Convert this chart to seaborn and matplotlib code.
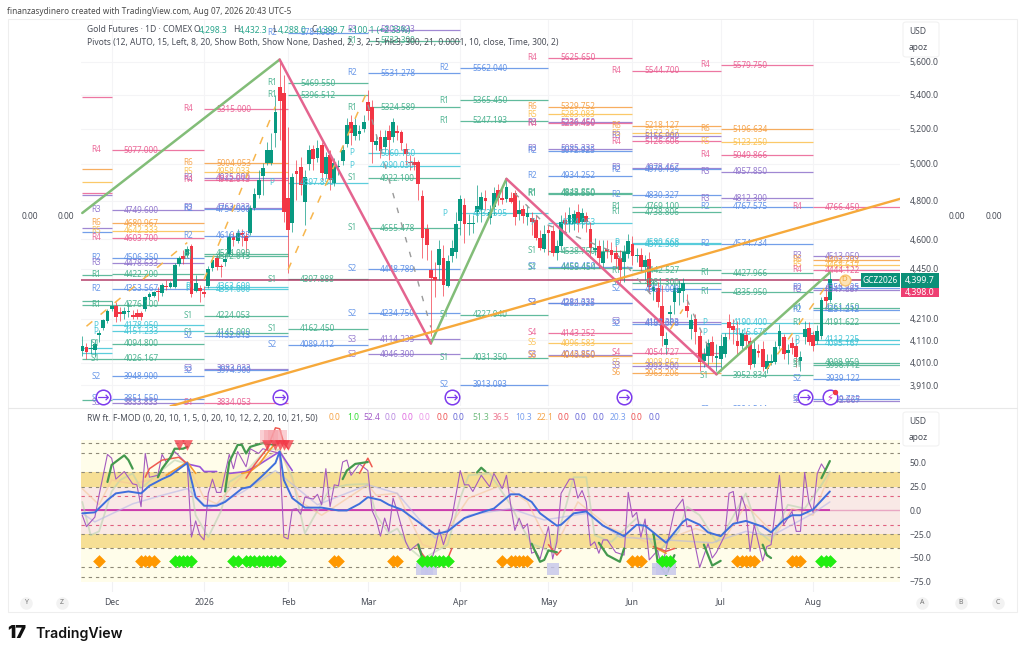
import matplotlib
matplotlib.use("Agg")
import numpy as np
import matplotlib.pyplot as plt
from matplotlib.patches import Rectangle, FancyBboxPatch
import seaborn as sns

W, H = 1024, 655

month_ticks = [7, 29, 49, 68, 90, 111, 131, 152, 174]
month_labels = ["Dec", "2026", "Feb", "Mar", "Apr", "May", "Jun", "Jul", "Aug"]
price_ticks = [5600, 5400, 5200, 5000, 4800, 4600, 4450, 4210, 4110, 4010, 3910]
osc_ticks = [50, 25, 0, -25, -50, -75]

# daily bars, one row per line of (open, high, low, close)
opens = [4060, 4078, 4069, 4065, 4134, 4166, 4198, 4254, 4268, 4240, 4230, 4240, 4226, 4235, 4235, 4254, 4311, 4320, 4339, 4330,
         4368, 4363, 4363, 4476, 4516, 4521, 4566, 4344, 4354, 4339, 4368, 4456, 4506, 4466, 4486, 4526, 4612, 4592, 4632, 4617,
         4632, 4763, 4832, 4935, 5006, 5006, 5175, 5447, 5411, 4816, 4684, 4962, 4984, 4795, 5001, 5085, 5034, 5107, 4946, 5051,
         4896, 4984, 5018, 5113, 5240, 5158, 5170, 5199, 5357, 5328, 5107, 5153, 5096, 5187, 5153, 5187, 5181, 5085, 5012, 5012,
         5012, 4827, 4653, 4446, 4412, 4471, 4506, 4368, 4516, 4536, 4695, 4778, 4679, 4679, 4742, 4752, 4816, 4710, 4768, 4858,
         4816, 4810, 4816, 4842, 4731, 4757, 4716, 4710, 4700, 4607, 4551, 4648, 4643, 4531, 4566, 4700, 4679, 4679, 4742, 4690,
         4721, 4653, 4546, 4566, 4481, 4551, 4546, 4531, 4506, 4486, 4526, 4576, 4516, 4521, 4461, 4501, 4344, 4358, 4272, 4087,
         4230, 4287, 4330, 4344, 4272, 4161, 4211, 4129, 4015, 4038, 4101, 4029, 4024, 4047, 4193, 4175, 4106, 4083, 4134, 4106,
         4002, 4060, 4069, 3980, 4006, 4011, 4083, 4124, 4051, 4097, 4083, 4015, 4124, 4166, 4134, 4106, 4129, 4311, 4298.3]
highs = [4129, 4096, 4115, 4115, 4157, 4211, 4254, 4292, 4287, 4263, 4263, 4287, 4249, 4254, 4245, 4320, 4339, 4344, 4363, 4383,
         4397, 4392, 4481, 4516, 4546, 4566, 4576, 4422, 4373, 4368, 4466, 4506, 4521, 4476, 4521, 4632, 4637, 4653, 4653, 4637,
         4778, 4869, 4968, 5006, 5124, 5175, 5399, 5606, 5520, 5210, 4951, 5023, 5040, 4968, 5107, 5107, 5136, 5124, 5068, 5079,
         5034, 5023, 5107, 5263, 5280, 5263, 5222, 5280, 5429, 5369, 5164, 5193, 5193, 5222, 5263, 5222, 5193, 5119, 5051, 5040,
         5023, 4858, 4679, 4546, 4486, 4597, 4571, 4521, 4597, 4742, 4832, 4816, 4731, 4726, 4885, 4848, 4858, 4778, 4875, 4891,
         4875, 4918, 4848, 4858, 4805, 4778, 4778, 4742, 4726, 4648, 4674, 4674, 4674, 4597, 4726, 4742, 4768, 4752, 4783, 4762,
         4742, 4690, 4607, 4597, 4597, 4597, 4587, 4571, 4546, 4571, 4627, 4617, 4556, 4556, 4521, 4536, 4397, 4387, 4373, 4147,
         4277, 4383, 4397, 4407, 4325, 4230, 4230, 4152, 4074, 4115, 4129, 4092, 4138, 4143, 4230, 4207, 4198, 4161, 4152, 4124,
         4115, 4092, 4106, 4047, 4047, 4106, 4184, 4138, 4092, 4124, 4097, 4060, 4198, 4193, 4152, 4179, 4311, 4373, 4432.3]
lows = [4038, 4024, 4047, 4033, 4101, 4157, 4189, 4245, 4193, 4198, 4207, 4216, 4211, 4207, 4202, 4245, 4301, 4311, 4292, 4320,
        4349, 4354, 4354, 4466, 4476, 4511, 4315, 4335, 4287, 4311, 4358, 4437, 4446, 4412, 4466, 4516, 4566, 4582, 4566, 4536,
        4622, 4752, 4816, 4832, 4995, 4995, 5096, 5136, 4690, 4432, 4638, 4805, 4832, 4674, 4968, 4968, 5012, 4913, 4924, 4858,
        4880, 4940, 4995, 5096, 5107, 5136, 5136, 5181, 5251, 5006, 5079, 5034, 5068, 5023, 5124, 5136, 5079, 4995, 4968, 4968,
        4805, 4506, 4496, 4129, 4311, 4397, 4320, 4363, 4486, 4506, 4622, 4582, 4622, 4632, 4690, 4690, 4752, 4679, 4726, 4778,
        4783, 4795, 4789, 4674, 4700, 4684, 4674, 4622, 4597, 4546, 4536, 4521, 4516, 4496, 4546, 4638, 4638, 4648, 4638, 4658,
        4638, 4506, 4521, 4456, 4456, 4506, 4486, 4456, 4383, 4387, 4506, 4471, 4486, 4437, 4397, 4330, 4301, 4263, 4083, 4047,
        4184, 4230, 4277, 4287, 4216, 4115, 4092, 3971, 3989, 3989, 4011, 3971, 3971, 4033, 4115, 4092, 4047, 4069, 4069, 3980,
        3989, 4033, 3971, 3962, 3998, 4002, 4069, 4024, 4002, 4047, 3989, 3971, 4092, 4087, 4060, 4092, 4115, 4254, 4288.0]
closes = [4083, 4056, 4074, 4092, 4143, 4202, 4245, 4272, 4216, 4230, 4245, 4245, 4216, 4216, 4216, 4311, 4325, 4335, 4335, 4373,
          4363, 4383, 4471, 4506, 4501, 4551, 4325, 4383, 4344, 4325, 4451, 4496, 4461, 4461, 4501, 4612, 4597, 4632, 4622, 4592,
          4763, 4837, 4913, 4979, 5079, 5079, 5298, 5363, 4742, 4648, 4929, 4946, 4885, 4929, 5079, 5029, 5091, 4951, 5040, 4913,
          5006, 4990, 5079, 5222, 5175, 5222, 5187, 5240, 5304, 5124, 5130, 5073, 5153, 5136, 5240, 5175, 5119, 5057, 5006, 4995,
          4891, 4607, 4571, 4407, 4397, 4551, 4373, 4491, 4556, 4679, 4810, 4679, 4684, 4684, 4773, 4821, 4800, 4742, 4842, 4816,
          4805, 4875, 4795, 4716, 4752, 4721, 4736, 4690, 4607, 4556, 4627, 4632, 4531, 4566, 4690, 4679, 4726, 4731, 4684, 4736,
          4690, 4556, 4556, 4506, 4536, 4541, 4521, 4501, 4446, 4536, 4592, 4516, 4521, 4461, 4496, 4363, 4363, 4287, 4129, 4115,
          4240, 4354, 4354, 4383, 4245, 4202, 4147, 4011, 4047, 4097, 4038, 4038, 4083, 4124, 4166, 4157, 4083, 4143, 4106, 3998,
          4069, 4051, 3989, 4015, 4015, 4078, 4152, 4047, 4065, 4074, 4033, 4033, 4161, 4101, 4083, 4152, 4301, 4292, 4399.7]

# monthly pivot columns: (level name, price)
piv_nov = [("R4", 5386), ("R6", 4974), ("R5", 4901), ("R4", 4840), ("R3", 4830), ("R3", 4655), ("R2", 4636),
           ("R1", 4422), ("R1", 4292), ("R1", 4277), ("P", 4074), ("P", 4052), ("S1", 4026), ("S1", 3846)]
piv_dec = [("R4", 5077.000), ("R3", 4749.600), ("R6", 4680.967), ("R5", 4642.333), ("R4", 4603.700), ("R2", 4506.350),
           ("R3", 4478.633), ("R1", 4422.200), ("R2", 4353.567), ("R1", 4276.100), ("P", 4178.950), ("P", 4151.233),
           ("S1", 4094.800), ("S1", 4026.167), ("S2", 3948.900), ("S2", 3851.550), ("S3", 3833.833)]
piv_jan = [("R4", 5315.000), ("R6", 5004.053), ("R5", 4958.033), ("R3", 4925.000), ("R4", 4912.013), ("R3", 4763.033),
           ("R2", 4754.900), ("R2", 4616.033), ("R1", 4524.090), ("R1", 4512.013), ("P", 4363.600), ("P", 4351.000),
           ("S1", 4224.053), ("S1", 4145.000), ("S2", 4132.013), ("S3", 3983.033), ("S2", 3974.900), ("S4", 3834.053)]
piv_feb = [("R2", 5784.988), ("R1", 5469.550), ("R1", 5396.512), ("P", 4897.850), ("S1", 4397.888),
           ("S1", 4162.450), ("S2", 4089.412)]
piv_mar = [("R3", 5803.833), ("R1", 5733.300), ("R2", 5531.278), ("R1", 5324.589), ("P", 5060.160), ("P", 4990.030),
           ("S1", 4922.100), ("S1", 4655.478), ("S2", 4448.789), ("S2", 4234.750), ("S3", 4114.235), ("S3", 4046.300)]
piv_apr = [("R2", 5562.040), ("R1", 5365.450), ("R1", 5247.193), ("P", 4732.595), ("S1", 4227.940),
           ("S1", 4031.350), ("S2", 3913.093)]
piv_may = [("R4", 5625.650), ("R6", 5329.752), ("R5", 5283.083), ("R3", 5236.450), ("R4", 5230.450), ("R3", 5085.333),
           ("R2", 5072.925), ("R2", 4934.252), ("R1", 4843.850), ("R1", 4838.550), ("P", 4684.063), ("S1", 4538.750),
           ("S2", 4459.450), ("S1", 4455.454), ("S3", 4284.333), ("S2", 4282.925), ("S4", 4143.252), ("S5", 4096.583),
           ("S3", 4043.850), ("S6", 4040.850)]
piv_jun = [("R4", 5544.700), ("R6", 5218.127), ("R5", 5172.347), ("R3", 5156.900), ("R4", 5126.606), ("R3", 4978.467),
           ("R2", 4970.156), ("R2", 4830.327), ("R1", 4769.100), ("R1", 4738.806), ("P", 4580.668), ("P", 4572.300),
           ("R1", 4442.527), ("S1", 4381.300), ("S2", 4351.008), ("S3", 4193.333), ("S2", 4187.008), ("S4", 4054.727),
           ("S5", 4008.967), ("S3", 3993.500), ("S6", 3963.206)]
piv_jul = [("R4", 5579.750), ("R6", 5196.634), ("R5", 5123.250), ("R4", 5049.866), ("R3", 4957.850), ("R3", 4812.300),
           ("R2", 4767.575), ("R2", 4574.734), ("R1", 4427.966), ("R1", 4335.950), ("P", 4190.400), ("P", 4145.678),
           ("S1", 3952.834), ("S2", 3804.544)]
piv_aug = [("R4", 4766.450), ("R3", 4513.950), ("R6", 4493.792), ("R5", 4468.617), ("R4", 4444.122), ("R2", 4356.725),
           ("R3", 4347.887), ("R1", 4261.450), ("R2", 4251.212), ("R1", 4191.622), ("P", 4112.225), ("P", 4095.167),
           ("S1", 4008.950), ("S1", 3998.712), ("S2", 3939.122), ("S2", 3849.725), ("S3", 3842.667)]
pivot_cols = [piv_nov, piv_dec, piv_jan, piv_feb, piv_mar, piv_apr, piv_may, piv_jun, piv_jul, piv_aug]
pivot_bounds = [0, 7, 29, 49, 68, 90, 111, 131, 152, 174, 195]

zigzag_up = [([0, 47], [4735, 5615]), ([83, 101], [4096, 4918]), ([151, 178], [3958, 4432])]
zigzag_down = [([47, 83], [5615, 4096]), ([101, 151], [4918, 3958])]
trend_x = [21, 194.7]
trend_y = [3820, 4810]
last_line = 4397
orange_dash = [([1, 25], [4175, 4582]), ([29, 46], [4397, 5330]), ([49, 68], [4446, 5429]),
               ([140, 143], [4161, 4254]), ([163, 177], [3980, 4363])]
gray_dash = [([68, 83], [5340, 4170]), ([103, 110, 127, 136], [4840, 4680, 4530, 4310]), ([144, 150], [4300, 4040])]
event_bars = [5, 47, 88, 129, 172]
event_price = 3858
flash_bar = 178

# oscillator pane
osc_x = [0, 1, 3, 4, 6, 7, 8, 10, 12, 13, 14, 15, 16, 18, 19, 20, 21, 22, 25, 26, 27, 28, 29, 30, 31, 32, 33, 35, 36, 37,
         39, 40, 42, 43, 47, 48, 49, 50, 51, 52, 53, 55, 56, 57, 58, 59, 60, 61, 62, 63, 64, 66, 68, 69, 70, 71, 72, 73, 74, 75,
         77, 78, 80, 81, 83, 84, 85, 86, 88, 90, 91, 92, 93, 95, 97, 98, 100, 101, 102, 103, 104, 105, 106, 107, 108, 109, 111, 112, 113,
         114, 116, 117, 118, 119, 120, 121, 122, 123, 124, 125, 127, 129, 130, 131, 132, 133, 134, 135, 137, 138, 141, 143, 144, 145,
         147, 149, 150, 151, 153, 154, 155, 156, 157, 158, 159, 160, 162, 163, 164, 166, 167, 169, 170, 171, 172, 173, 174, 175, 176, 177]
osc_y = [-5, -17, -7, 16, 59, 55, 33, 41, 28, 27, 4, 60, 35, 37, 59, 51, 55, 62, 49, -28, -11, -26, -31, 18, 33, 19, 19, 59, 44, 62,
         46, 65, 60, 65, 60, -28, -30, 1, 2, -4, 14, 12, 17, 6, 44, 4, 27, 26, 51, 53, 37, 49, 42, 0, -10, -27, -8, -22, 13, -1,
         -33, -42, -35, -47, -54, -40, -20, -36, -8, 42, 27, 27, 20, 37, 25, 39, 23, 37, 6, -21, -8, -19, -14, -45, -43, -51, -17, -51, -33,
         18, 33, 33, 13, 21, 9, -37, -33, -45, -31, -31, -44, -47, 19, -7, -2, -28, -9, -52, -42, -61, 0, 12, -17, -17,
         -60, -35, -50, -44, -26, 18, 20, -12, 15, 2, -43, -15, -53, -38, -36, 37, -15, -1, -22, -22, 40, 9, -2, 39, 49, 42]
ma_x = [0, 3, 6, 8, 11, 14, 16, 19, 21, 25, 27, 29, 32, 34, 38, 40, 43, 46, 47, 48, 50, 53, 57, 61, 63, 66, 68, 71, 73, 76,
        80, 84, 87, 91, 95, 98, 102, 104, 107, 109, 113, 114, 117, 120, 124, 129, 132, 134, 139, 143, 144, 147, 149, 152,
        155, 158, 162, 164, 167, 169, 171, 174, 178]
ma_y = [-3, -2, 11, 18, 20, 18, 26, 33, 37, 50, 14, 5, 5, 9, 23, 25, 37, 50, 62, 32, 13, 3, 3, 0, 0, 7, 14, 11, 6, 1,
        -12, -25, -22, -8, -2, 2, 17, 17, 9, -3, -16, -15, -3, -1, -16, -27, -15, -16, -34, -12, -9, -15, -23, -27,
        -14, -11, -17, -23, -10, -5, -5, 1, 20]
green_segs = [([6, 7, 10, 11, 12], [30, 48, 58, 53, 44]), ([18, 19, 21, 22, 24, 25], [35, 44, 56, 65, 65, 67]),
              ([34, 35, 37, 38, 39, 40, 43, 46], [20, 51, 69, 69, 60, 67, 71, 69]), ([62, 63, 65, 68], [33, 42, 49, 51]),
              ([80, 81, 83], [-36, -51, -54]), ([94, 95, 96], [40, 45, 41]), ([107, 109, 110, 111, 113], [-35, -54, -52, -42, -44]),
              ([123, 125, 128, 129], [-34, -47, -54, -40]), ([136, 137, 139, 141], [-24, -54, -68, -47]),
              ([148, 150, 152], [-36, -58, -53]), ([162, 163, 164], [-36, -47, -50]), ([176, 178], [34, 52])]
red_segs = [([15, 16, 19, 23, 25], [35, 44, 53, 56, 49]), ([39, 41, 44, 46, 47, 48, 49], [34, 48, 65, 87, 86, 71, 65]),
            ([66, 68, 69], [39, 55, 46]), ([80, 82, 85, 87, 88], [-40, -52, -57, -51, -40]), ([111, 113, 114], [-36, -47, -42]),
            ([136, 139, 141], [-38, -43, -40])]
orange_segs = [([20, 25, 27], [37, 51, 39]), ([38, 40, 42, 44, 46], [39, 41, 48, 60, 71]), ([136, 139], [-38, -45])]
violet_segs = [([25, 28, 29, 32], [49, 46, 41, 41]), ([35, 39, 42, 47, 50], [39, 41, 48, 62, 42])]
pale_green_x = [0, 2, 4, 7, 9, 12, 14, 18, 22, 25, 27, 30, 33, 35, 39, 44, 47, 50, 53, 55, 59, 63, 68, 70, 73, 75, 78, 81, 87, 90, 92, 97, 102,
                104, 107, 112, 115, 117, 120, 122, 126, 132, 137, 142, 144, 147, 151, 153, 158, 161, 164, 168, 172, 176, 178]
pale_green_y = [9, -26, -22, 20, 32, 39, 23, 39, 53, 49, -5, -28, -1, 30, 41, 65, 64, 35, -24, -8, 23, 27, 28, -5, -24, -19, -40, -51, -36, 13, 37, 39, 6,
                -12, -35, -44, 2, 35, 35, -26, -33, -8, -44, -22, 4, -5, -33, -22, 18, -22, -33, 6, 2, 27, 41]
pale_orange_x = [0, 4, 7, 12, 18, 25, 29, 32, 39, 47, 52, 57, 68, 70, 75, 81, 84, 92, 100, 106, 112, 118, 126, 136, 146, 153, 158, 165, 169, 174, 178]
pale_orange_y = [23, 6, 32, 28, 34, 49, 13, 7, 41, 65, 9, -5, 27, 16, 18, -36, -40, 13, 27, 9, -44, 9, -19, -36, -19, -29, 6, -26, 2, -5, 39]
pale_lav_x = [0, 3, 12, 19, 25, 30, 38, 46, 56, 68, 75, 84, 92, 102, 110, 120, 128, 139, 150, 158, 164, 174, 178]
pale_lav_y = [-3, -12, 7, 16, 23, 2, 19, 42, 6, 27, 18, -29, -5, 2, -10, -3, -28, -31, -34, -22, -27, -3, 9]
orange_marks = [4, 14, 15, 16, 17, 60, 61, 74, 75, 100, 102, 103, 104, 105, 106, 131, 132, 133, 156, 157, 158, 159, 160, 169, 170, 171]
green_marks = [22, 23, 24, 25, 26, 36, 37, 39, 40, 41, 42, 43, 44, 45, 46, 47, 81, 82, 83, 84, 85, 86, 87, 138, 139, 140, 176, 177, 178]
mark_level = -53
lav_marks = [81, 82, 83, 112, 137, 138, 140]
lav_level = -62
sell_marks = [23, 25, 44, 46, 47, 48, 49]
sell_level = 69
sub_values = ["0.0", "1.0", "52.4", "0.0", "0.0", "0.0", "0.0", "0.0", "51.3", "36.5", "10.3", "22.1", "0.0", "0.0", "0.0", "20.3", "0.0", "0.0"]
sub_colors = ["#f5a54a", "#33dd33", "#a35cc8", "#b98ae0", "#e06ce0", "#eb9ae8", "#ee5555", "#6a6ad8", "#6fbb7d",
              "#ee7b94", "#7aa0ee", "#f5a54a", "#ee5555", "#6a6ad8", "#6a6ad8", "#7aa0ee", "#ee5555", "#6a6ad8"]
sub_value_px = [329, 347, 363, 385, 402, 419, 437, 453, 472, 493, 515, 537, 558, 575, 593, 610, 631, 649]

level_colors = {"R1": "#45b08c", "S1": "#45b08c", "R2": "#5b8ee6", "S2": "#5b8ee6", "R3": "#8f73cc", "S3": "#8f73cc",
                "R4": "#ea5f92", "S4": "#ea5f92", "R5": "#fbc04f", "S5": "#fbc04f", "R6": "#f6a044", "S6": "#f6a044",
                "P": "#3fc5d6"}
UP, DOWN = "#089981", "#f23645"
TXT = "#4a4e58"
LEG = 6.1

sns.set_theme(style="white")
plt.rcParams["font.family"] = ["Noto Sans", "DejaVu Sans"]
fig = plt.figure(figsize=(W / 100, H / 100), dpi=100, facecolor="white")


def fx(x):
    return x / W


def fy(y):
    return 1 - y / H


def panel(x0, y0, x1, y1):
    return fig.add_axes([fx(x0), fy(y1), (x1 - x0) / W, (y1 - y0) / H])


def box(x0, y0, x1, y1, **kw):
    fig.add_artist(Rectangle((fx(x0), fy(y1)), (x1 - x0) / W, (y1 - y0) / H, transform=fig.transFigure, **kw))


def seg_lines(ax, segs, color, lw, alpha=1.0, **kw):
    for xs, ys in segs:
        sns.lineplot(x=xs, y=ys, ax=ax, color=color, lw=lw, alpha=alpha, estimator=None, sort=False, legend=False, **kw)


ax = panel(81, 20, 900, 406)
ax2 = panel(81, 409, 900, 592)

# main pane
ax.set_yscale("log")
ax.set_xlim(-0.3, 194.7)
ax.set_ylim(3821, 5867.5)
ax.set_yticks(price_ticks)
ax.set_yticklabels([f"{p:,.1f}" for p in price_ticks], fontsize=6.2, color=TXT)
ax.minorticks_off()
ax.yaxis.tick_right()
ax.tick_params(axis="y", length=0, pad=7)
ax.set_xticks(month_ticks)
ax.set_xticklabels([])
ax.tick_params(axis="x", length=0)
ax.grid(True, color="#f4f4f6", lw=0.8)
ax.set_axisbelow(True)
for s in ax.spines.values():
    s.set_visible(False)

for k, col in enumerate(pivot_cols):
    x0, x1 = pivot_bounds[k], pivot_bounds[k + 1]
    for name, price in col:
        c = level_colors[name]
        ax.hlines(price, x0, x1, color=c, lw=0.9, alpha=0.85, zorder=2)
        if k > 0:
            ax.text(x0 - 3.8, price * 1.0004, name, color=c, fontsize=5.9, ha="center", va="center", alpha=0.9, zorder=6, clip_on=True)
            ax.text(x0 + 2.9, price, f"{price:.3f}", color=c, fontsize=5.9, ha="left", va="center", alpha=0.95, zorder=6, clip_on=True)

ax.axhline(last_line, color="#b23a66", lw=1.2, alpha=0.9, zorder=3)

bars = np.arange(len(opens))
o, c = np.array(opens, float), np.array(closes, float)
bar_cols = [UP if c[i] >= o[i] else DOWN for i in bars]
ax.vlines(bars, lows, highs, colors=bar_cols, lw=0.7, alpha=0.7, zorder=4)
ax.bar(bars, np.maximum(np.abs(c - o), 5), bottom=np.minimum(o, c), width=0.9, color=bar_cols, lw=0, zorder=5)

seg_lines(ax, zigzag_up, "#82bd78", 1.8, zorder=7)
seg_lines(ax, zigzag_down, "#e4648f", 1.8, zorder=7)
sns.lineplot(x=trend_x, y=trend_y, ax=ax, color="#f6a93b", lw=1.7, estimator=None, legend=False, zorder=7)
seg_lines(ax, orange_dash, "#f7b64d", 1.1, zorder=6, dashes=(5, 7))
seg_lines(ax, gray_dash, "#9a9a9a", 1.0, zorder=6, dashes=(4, 7))

ex = event_bars
ey = [event_price] * len(ex)
sns.scatterplot(x=ex + [flash_bar], y=ey + [event_price], ax=ax, s=110, facecolor="white", edgecolor="#7c3aed", linewidth=1.1, zorder=8, legend=False)
ax.scatter(ex, ey, marker=r"$\rightarrow$", s=60, color="#7c3aed", linewidths=0, zorder=9)
ax.text(flash_bar, event_price, "\u26a1", color="#c026d3", fontsize=7, ha="center", va="center", family="DejaVu Sans", zorder=9)
ax.scatter([flash_bar + 1.3], [event_price * 1.006], s=8, color="#f23645", zorder=10)
ax.scatter([181.5], [last_line], s=60, color="#fde3b5", edgecolor="#f9c56f", zorder=8)
ax.text(181.5, last_line, "D", color="#f0a030", fontsize=5.6, ha="center", va="center", zorder=9)

# oscillator pane
ax2.set_xlim(-0.3, 194.7)
ax2.set_ylim(-85.8, 106.8)
ax2.axhspan(40, 74, color="#fffdea", lw=0)
ax2.axhspan(-75, -40, color="#fffdea", lw=0)
ax2.axhspan(25, 40, color="#f6df95", lw=0)
ax2.axhspan(-40, -25, color="#f6df95", lw=0)
ax2.axhspan(-25, 25, color="#f9e9e6", lw=0)
for lev in [71, 60, 40, 25, -25, -40, -60, -70]:
    ax2.axhline(lev, color="#8f8a78", lw=0.8, dashes=(3, 3.5))
for lev in [15, -15]:
    ax2.axhline(lev, color="#e0607f", lw=0.8, dashes=(3, 3.5))
ax2.axhline(0, color="#e9a7c3", lw=1.0)
ax2.hlines(0, -0.3, 178, color="#c728a8", lw=1.2)

seg_lines(ax2, [(pale_green_x, pale_green_y)], "#b9d3b0", 1.3, alpha=0.6)
seg_lines(ax2, [(pale_orange_x, pale_orange_y)], "#f6c79a", 1.1, alpha=0.6)
seg_lines(ax2, [(pale_lav_x, pale_lav_y)], "#b6b8e8", 1.1, alpha=0.6)
seg_lines(ax2, [(osc_x, osc_y)], "#a45bbf", 0.8)
seg_lines(ax2, violet_segs, "#9a55d8", 1.2)
seg_lines(ax2, orange_segs, "#f39a2d", 1.2)
seg_lines(ax2, red_segs, "#ee5a50", 1.1)
seg_lines(ax2, green_segs, "#44994e", 1.6)
seg_lines(ax2, [(ma_x, ma_y)], "#3f6fdc", 1.4)

sns.scatterplot(x=orange_marks, y=[mark_level] * len(orange_marks), ax=ax2, marker="D", s=42, color="#ff9800", linewidth=0, legend=False, zorder=6)
sns.scatterplot(x=green_marks, y=[mark_level] * len(green_marks), ax=ax2, marker="D", s=42, color="#22ee11", linewidth=0, legend=False, zorder=6)
sns.scatterplot(x=lav_marks, y=[lav_level] * len(lav_marks), ax=ax2, marker="s", s=70, color="#c5c5ec", alpha=0.8, linewidth=0, legend=False, zorder=5)
sns.scatterplot(x=[44, 45, 46, 47], y=[77] * 4, ax=ax2, marker="s", s=100, color="#f6a0a8", alpha=0.5, linewidth=0, legend=False, zorder=5)
sns.scatterplot(x=sell_marks, y=[sell_level] * len(sell_marks), ax=ax2, marker="v", s=60, color="#f23645", alpha=0.75, linewidth=0, legend=False, zorder=7)

ax2.set_yticks(osc_ticks)
ax2.set_yticklabels([f"{t:.1f}".replace("-", "\u2212") for t in osc_ticks], fontsize=6.2, color=TXT)
ax2.yaxis.tick_right()
ax2.tick_params(axis="y", length=0, pad=7)
ax2.set_xticks(month_ticks)
ax2.set_xticklabels(month_labels, fontsize=6.2, color=TXT)
ax2.get_xticklabels()[1].set_fontweight("bold")
ax2.tick_params(axis="x", length=0, pad=4)
ax2.grid(True, axis="x", color="#f1f1f3", lw=0.8)
ax2.set_axisbelow(True)
for s in ax2.spines.values():
    s.set_visible(False)

# page chrome
box(8, 19, 1017, 612, fill=False, edgecolor="#eeeeee", lw=0.8, zorder=0)
fig.add_artist(plt.Line2D([fx(8), fx(1017)], [fy(407.5), fy(407.5)], color="#e8e8e8", lw=0.8))
fig.text(fx(7), fy(11), "finanzasydinero created with TradingView.com, Aug 07, 2026 20:43 UTC-5", fontsize=5.9, color="#4a4a4a", va="center")

fig.text(fx(87), fy(30), "Gold Futures \u00b7 1D \u00b7 COMEX", fontsize=LEG, color=TXT, va="center", zorder=20)
for px, head, val in [(193, "O", "4,298.3"), (233, "H", "4,432.3"), (272, "L", "4,288.0"), (311, "C", "4,399.7")]:
    fig.text(fx(px), fy(30), head, fontsize=LEG, color=TXT, va="center", zorder=20)
    fig.text(fx(px + 5.5), fy(30), val, fontsize=LEG, color="#2aa58c", va="center", zorder=20)
fig.text(fx(348), fy(30), "+100.1 (+2.33%)", fontsize=LEG, color="#2aa58c", va="center", zorder=20)
fig.text(fx(87), fy(42), "Pivots (12, AUTO, 15, Left, 8, 20, Show Both, Show None, Dashed, 2, 3, 2, 5, hlc3, 300, 21, 0.0001, 10, close, Time, 300, 2)",
         fontsize=LEG, color=TXT, va="center", zorder=20)
fig.text(fx(87), fy(418), "RW ft. F-MOD (0, 20, 10, 1, 5, 0, 20, 10, 12, 2, 20, 10, 21, 50)", fontsize=LEG, color=TXT, va="center", zorder=20)
for px, val, col in zip(sub_value_px, sub_values, sub_colors):
    fig.text(fx(px), fy(418), val, fontsize=LEG, color=col, va="center", zorder=20)

for px in [30, 66, 957, 994]:
    fig.text(fx(px), fy(216), "0.00", fontsize=LEG, color=TXT, ha="center", va="center")

for y0, y1 in [(22, 57), (412, 446)]:
    fig.add_artist(FancyBboxPatch((fx(903), fy(y1)), 36 / W, (y1 - y0) / H, boxstyle="round,pad=0,rounding_size=0.003",
                                  transform=fig.transFigure, facecolor="white", edgecolor="#f0f0f0", lw=0.7, zorder=15))
    fig.text(fx(909), fy(y0 + 9), "USD", fontsize=LEG, color=TXT, va="center", zorder=16)
    fig.text(fx(909), fy(y0 + 26), "apoz", fontsize=LEG, color=TXT, va="center", zorder=16)

box(861, 273, 900, 287, facecolor="#0b9078", edgecolor="none", zorder=15)
box(901, 273, 939, 288, facecolor="#0b9078", edgecolor="none", zorder=15)
box(901, 288, 939, 297.5, facecolor="#ee3f72", edgecolor="none", zorder=15)
fig.text(fx(880.5), fy(280), "GCZ2026", fontsize=6.0, color="white", ha="center", va="center", zorder=16)
fig.text(fx(920), fy(280), "4,399.7", fontsize=6.3, color="white", ha="center", va="center", zorder=16)
fig.text(fx(920), fy(292.5), "4,398.0", fontsize=6.3, color="white", ha="center", va="center", zorder=16)

for px, s in [(26, "Y"), (62, "Z"), (922, "A"), (961, "B"), (998, "C")]:
    fig.add_artist(plt.Line2D([fx(px)], [fy(603)], marker="o", ms=9, color="#f2f2f2", mec="none"))
    fig.text(fx(px), fy(603), s, fontsize=5, color="#777777", ha="center", va="center", zorder=16)

fig.text(fx(7), fy(633.5), "17", fontsize=13, fontweight="black", color="#111111", va="center", family="Inter")
fig.text(fx(35), fy(633.5), "TradingView", fontsize=10.2, fontweight="semibold", color="#111111", va="center", family="Inter")

fig.savefig("out.png", dpi=100, facecolor="white")
